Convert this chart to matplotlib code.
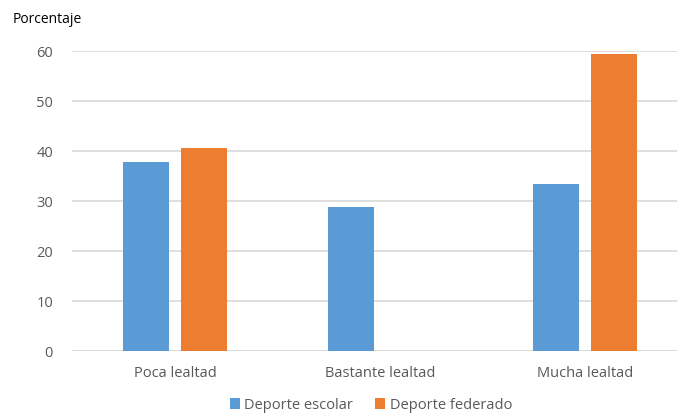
import numpy as np
import matplotlib
matplotlib.use('Agg')
import matplotlib.pyplot as plt

categories = ['Poca lealtad', 'Bastante lealtad', 'Mucha lealtad']
escolar = [37.9, 28.8, 33.4]
federado = [40.6, 0, 59.4]
series_names = ['Deporte escolar', 'Deporte federado']
yticks = [0, 10, 20, 30, 40, 50, 60]

plt.rcParams['font.family'] = ['Open Sans', 'DejaVu Sans']

fig = plt.figure(figsize=(6.77, 4.16), dpi=100)
ax = fig.add_axes([0.107, 0.156, 0.908, 0.721])

x = np.arange(len(categories))
w = 0.224
off = 0.141
b1 = ax.bar(x - off, escolar, w, color='#5B9BD5', label=series_names[0], zorder=3)
b2 = ax.bar(x + off, federado, w, color='#ED7D31', label=series_names[1], zorder=3)

ax.set_xlim(-0.5, 2.5)
ax.set_ylim(0, 60)
ax.set_yticks(yticks)
ax.set_xticks(x)
ax.set_xticklabels(categories)
ax.yaxis.grid(True, color='#D9D9D9', linewidth=1.2, zorder=0)
for s in ax.spines.values():
    s.set_visible(False)
ax.axhline(0, color='#D9D9D9', linewidth=1.2, zorder=2)
ax.tick_params(axis='both', length=0, labelsize=10.5, labelcolor='#595959')
ax.tick_params(axis='y', pad=14)
ax.tick_params(axis='x', pad=11)

fig.text(0.018, 0.952, 'Porcentaje', fontsize=10, color='#000000', va='center')

fig.legend(handles=[b1, b2], loc='center', bbox_to_anchor=(0.548, 0.026), ncol=2,
           frameon=False, fontsize=10.5, handlelength=0.7, handleheight=0.7,
           handletextpad=0.3, columnspacing=1.5, labelcolor='#595959')

fig.savefig('out.png', dpi=100)
